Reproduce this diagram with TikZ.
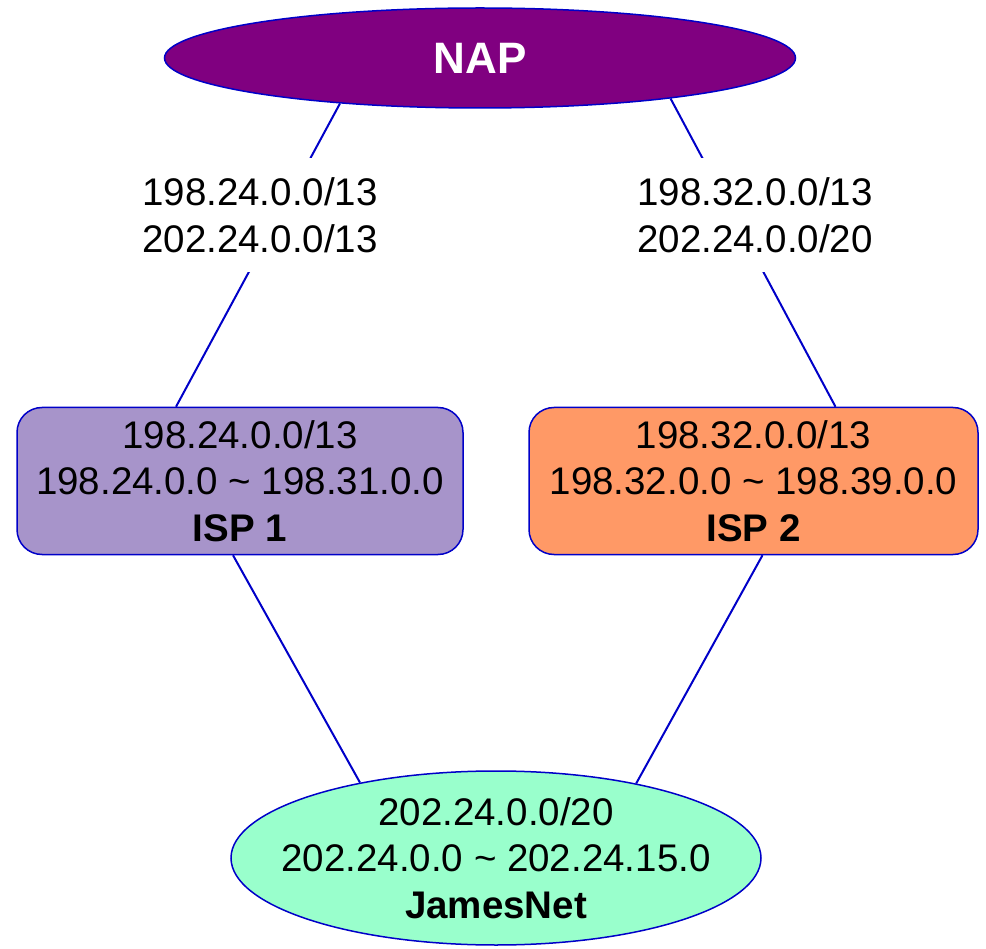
\documentclass[tikz,border=0pt]{standalone}
\usepackage{fontspec}
\setmainfont{Liberation Sans}
\usetikzlibrary{shapes.geometric}

\definecolor{napfill}{RGB}{128,0,128}
\definecolor{ispAfill}{RGB}{167,148,202}
\definecolor{ispBfill}{RGB}{255,153,102}
\definecolor{jamesfill}{RGB}{153,255,204}
\definecolor{linkblue}{RGB}{0,0,200}

\tikzset{
	netbox/.style={draw=linkblue, line width=1.5pt, align=center, inner sep=0pt,
		font=\fontsize{38.5}{46.5}\selectfont},
	ispbox/.style={netbox, rectangle, rounded corners=25pt, minimum height=147pt},
	netoval/.style={netbox, ellipse},
	routelbl/.style={fill=white, align=center, inner sep=0pt, minimum height=114pt,
		font=\fontsize{38.5}{46.5}\selectfont},
	link/.style={draw=linkblue, line width=2pt}
}

\begin{document}
\begin{tikzpicture}[x=1pt, y=-1pt]
	\useasboundingbox (0,0) rectangle (986,949);

	\node[netoval, fill=napfill, text=white, minimum width=631pt, minimum height=100pt,
		font=\fontsize{44}{50}\selectfont\bfseries] (nap) at (480,58) {NAP};

	\node[ispbox, fill=ispAfill, minimum width=446pt] (isp1) at (240,481)
		{198.24.0.0/13\\198.24.0.0 \textasciitilde{} 198.31.0.0\\\textbf{ISP 1}};
	\node[ispbox, fill=ispBfill, minimum width=449pt] (isp2) at (753.5,481)
		{198.32.0.0/13\\198.32.0.0 \textasciitilde{} 198.39.0.0\\\textbf{ISP 2}};

	\node[netoval, fill=jamesfill, minimum width=530pt, minimum height=174pt,
		inner xsep=-45pt, inner ysep=-12pt] (james) at (496,858)
		{202.24.0.0/20\\202.24.0.0 \textasciitilde{} 202.24.15.0\\\textbf{JamesNet}};

	\draw[link] (nap.198) -- ([xshift=-64pt]isp1.north);
	\draw[link] (nap.-12) -- ([xshift=82pt]isp2.north);
	\draw[link] ([xshift=-7pt]isp1.south) -- (james.151);
	\draw[link] ([xshift=9pt]isp2.south) -- (james.28);

	% route announcements on the upper links
	\node[routelbl] (adv1) at (260,215) {198.24.0.0/13\\202.24.0.0/13};
	\node[routelbl] (adv2) at (755,215) {198.32.0.0/13\\202.24.0.0/20};
\end{tikzpicture}
\end{document}
